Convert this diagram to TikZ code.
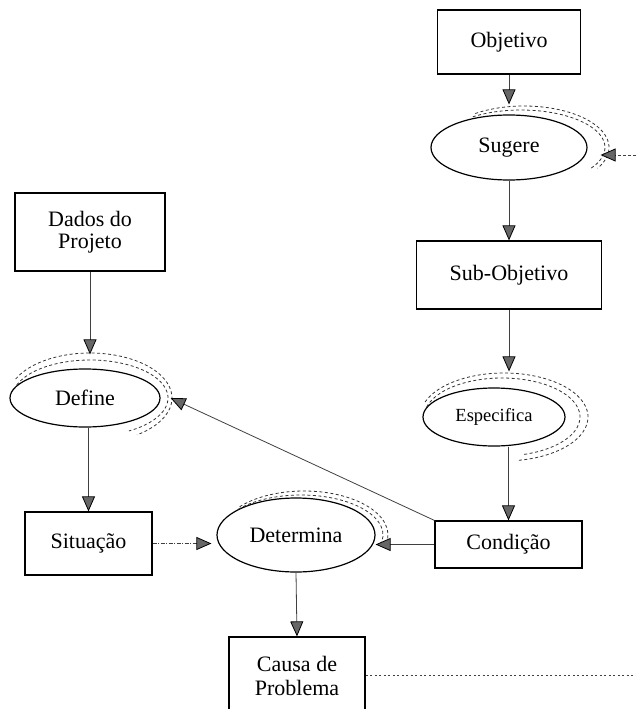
\documentclass[tikz,border=0pt]{standalone}
\usepackage{fontspec}
\setmainfont{Liberation Serif}
\usetikzlibrary{arrows.meta,shapes.geometric,calc}
\newcommand\echoarc[6]{\draw[echo] ($(#1)+(#2,0)$) ++(#5:#3 and #4) arc[start angle=#5,end angle=#6,x radius=#3,y radius=#4];}
\begin{document}
\begin{tikzpicture}[x=1pt,y=1pt,
 box/.style={draw=black,line width=1.2pt,rectangle,inner sep=0pt,font=\fontsize{22}{22}\selectfont,align=center},
 oval/.style={draw=black,line width=1.2pt,ellipse,inner sep=0pt,font=\fontsize{22}{22}\selectfont},
 conn/.style={draw=black!75,line width=0.8pt,-{Triangle[length=15pt,width=13pt,fill=black!60,color=black,line width=0.8pt]}},
 echo/.style={draw=black!80,line width=0.8pt,dash pattern=on 3pt off 2.5pt},
 dotline/.style={draw=black!75,line width=0.8pt,dash pattern=on 2pt off 2.5pt},
]
\useasboundingbox (0,0) rectangle (636,-709);
\clip (0,0) rectangle (636,-709);
% nodes
\node[box,minimum width=143,minimum height=64] (obj) at (509,-42) {Objetivo};
\node[oval,minimum width=156,minimum height=65] (sug) at (509,-147.5) {Sugere};
\node[box,minimum width=185,minimum height=68] (sub) at (509,-275) {Sub-Objetivo};
\node[oval,minimum width=142,minimum height=58,font=\fontsize{18.5}{18.5}\selectfont] (esp) at (494,-417) {Especifica};
\node[box,minimum width=147,minimum height=47] (cond) at (508.5,-544.5) {Condição};
\node[box,minimum width=150,minimum height=78] (dados) at (90,-232) {Dados do\\Projeto};
\node[oval,minimum width=150,minimum height=58] (def) at (85,-398) {Define};
\node[box,minimum width=127,minimum height=63] (sit) at (88.5,-543.5) {Situação};
\node[oval,minimum width=158,minimum height=74] (det) at (296,-535) {Determina};
\node[box,minimum width=136,minimum height=77,font=\fontsize{22}{24}\selectfont] (causa) at (297,-675.5) {Causa de\\Problema};
\coordinate (rt) at (636,-674);
\coordinate (inr) at (636,-155);
% echo arcs
\echoarc{sug.center}{12}{84}{37.5}{125}{-35}
\echoarc{sug.center}{15}{85}{41.5}{125}{-30}
\echoarc{def.center}{5}{78}{38}{160}{-60}
\echoarc{def.center}{5}{82}{45}{155}{-55}
\echoarc{esp.center}{8}{78}{39}{165}{-75}
\echoarc{esp.center}{10}{84}{44}{160}{-80}
\echoarc{det.center}{5}{82}{40}{140}{-10}
\echoarc{det.center}{8}{84}{44}{140}{-5}
% connectors
\draw[conn,shorten >=10pt] (obj.south) -- (sug.north);
\draw[conn] (sug.south) -- (sub.north);
\draw[conn,shorten >=16pt] (sub.south) -- (sub.south |- esp.north);
\draw[conn] (cond.north |- esp.south) -- (cond.north);
\draw[conn,shorten >=14pt] (dados.south) -- (dados.south |- def.north);
\draw[conn] (def.south -| sit.north) -- (sit.north);
\draw[conn,dash pattern=on 4pt off 1.5pt on 1pt off 1.5pt,shorten >=5pt] (sit.east) -- (sit.east -| det.west);
\draw[conn] (cond.west) -- (cond.west -| det.east);
\draw[conn] (cond.north west) -- ([xshift=10pt]def.east);
\draw[conn] (det.south) -- (causa.north);
\draw[dotline] (causa.east) -- (causa.east -| rt);
\draw[conn,dash pattern=on 3pt off 2pt,shorten >=13pt] (inr) -- (inr -| sug.east);
\end{tikzpicture}
\end{document}
